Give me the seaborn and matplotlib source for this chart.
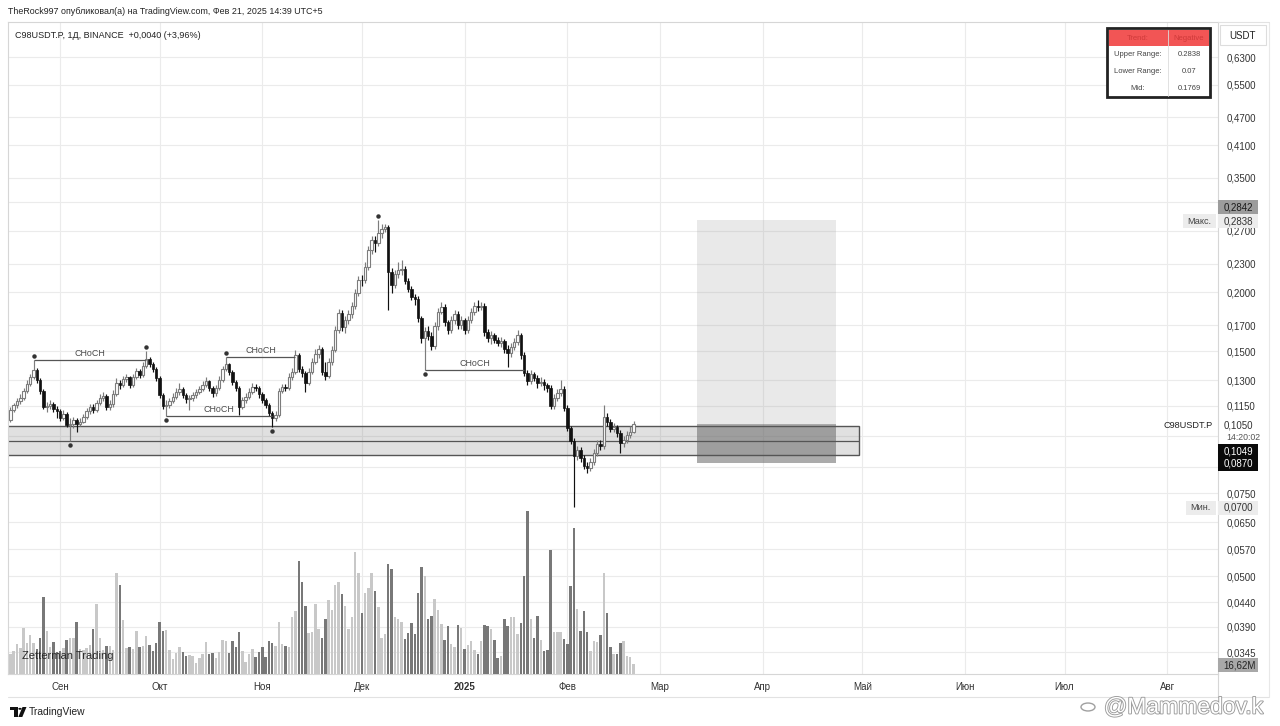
import matplotlib
matplotlib.use('Agg')
import matplotlib.pyplot as plt
import matplotlib.dates as mdates
import matplotlib.patheffects as pe
from matplotlib.patches import Rectangle, Polygon, Circle
from matplotlib.lines import Line2D
from matplotlib.transforms import offset_copy
from matplotlib.ticker import NullLocator
import numpy as np
import pandas as pd
import seaborn as sns

# ---- data (daily candles, C98USDT.P) ----
start_date = '2024-08-17'
first_open = 0.1072

close = [
    .1125, .1153, .1175, .1193, .1235, .1278, .1322, .1368, .1303, .1235,
    .1142, .1147, .1158, .1131, .1120, .1082, .1103, .1046, .1051, .1072,
    .1051, .1061, .1087, .1120, .1142, .1125, .1164, .1193, .1205, .1142,
    .1158, .1217, .1284, .1271, .1309, .1322, .1271, .1322, .1361, .1335,
    .1394, .1443, .1408, .1374, .1316, .1211, .1147, .1153, .1175, .1199,
    .1229, .1247, .1211, .1187, .1193, .1211, .1229, .1247, .1271, .1297,
    .1253, .1223, .1253, .1303, .1374, .1408, .1354, .1290, .1253, .1142,
    .1181, .1199, .1229, .1259, .1253, .1217, .1181, .1153, .1109, .1082,
    .1098, .1235, .1259, .1253, .1322, .1354, .1472, .1374, .1348, .1284,
    .1354, .1422, .1479, .1515, .1354, .1328, .1422, .1508, .1663, .1807,
    .1688, .1746, .1798, .1870, .1992, .2123, .2118, .2262, .2457, .2581,
    .2544, .2670, .2723, .2750, .2207, .2071, .2186, .2229, .2240, .2113,
    .2031, .1954, .1935, .1763, .1599, .1655, .1615, .1538, .1696, .1816,
    .1861, .1729, .1663, .1746, .1798, .1704, .1746, .1663, .1746, .1816,
    .1870, .1861, .1870, .1647, .1599, .1623, .1583, .1560, .1575, .1515,
    .1486, .1530, .1568, .1623, .1472, .1348, .1297, .1341, .1316, .1284,
    .1290, .1271, .1253, .1147, .1193, .1223, .1247, .1136, .1031, .0967,
    .0899, .0926, .0890, .0856, .0848, .0873, .0913, .0953, .0944, .1087,
    .1061, .1025, .1036, .1006, .0958, .0972, .0996, .1009, .1049]

high = [
    .1142, .1164, .1193, .1217, .1253, .1303, .1341, .1436, .1381, .1316,
    .1247, .1170, .1181, .1170, .1147, .1131, .1125, .1114, .1082, .1087,
    .1082, .1082, .1103, .1136, .1158, .1158, .1181, .1217, .1229, .1217,
    .1181, .1241, .1316, .1303, .1328, .1341, .1328, .1341, .1381, .1374,
    .1422, .1501, .1458, .1422, .1388, .1328, .1223, .1181, .1193, .1223,
    .1253, .1284, .1259, .1223, .1211, .1229, .1247, .1265, .1297, .1322,
    .1303, .1265, .1271, .1328, .1394, .1458, .1415, .1368, .1303, .1265,
    .1199, .1223, .1253, .1284, .1278, .1265, .1229, .1193, .1164, .1120,
    .1120, .1253, .1278, .1278, .1348, .1381, .1508, .1486, .1394, .1361,
    .1381, .1450, .1515, .1545, .1530, .1422, .1450, .1538, .1696, .1842,
    .1833, .1780, .1833, .1906, .2031, .2165, .2175, .2317, .2506, .2631,
    .2631, .2838, .2791, .2791, .2777, .2251, .2229, .2317, .2340, .2273,
    .2144, .2061, .1982, .1963, .1780, .1688, .1696, .1647, .1729, .1851,
    .1906, .1888, .1746, .1780, .1833, .1824, .1780, .1763, .1780, .1851,
    .1906, .1925, .1906, .1897, .1671, .1655, .1639, .1607, .1607, .1591,
    .1545, .1560, .1599, .1663, .1639, .1493, .1368, .1368, .1354, .1335,
    .1322, .1309, .1284, .1271, .1217, .1247, .1303, .1265, .1153, .1041,
    .0982, .0944, .0940, .0904, .0873, .0890, .0931, .0972, .0972, .1153,
    .1109, .1077, .1056, .1046, .1020, .0991, .1015, .1041, .1067]

low = [
    .1061, .1114, .1136, .1158, .1181, .1223, .1265, .1309, .1284, .1217,
    .1131, .1114, .1131, .1114, .1082, .1067, .1072, .1036, .0967, .1031,
    .1011, .1041, .1056, .1077, .1103, .1109, .1114, .1153, .1175, .1125,
    .1125, .1142, .1205, .1247, .1259, .1290, .1253, .1259, .1309, .1316,
    .1322, .1381, .1388, .1354, .1297, .1193, .1131, .1093, .1136, .1164,
    .1187, .1211, .1193, .1164, .1125, .1175, .1193, .1217, .1235, .1259,
    .1235, .1199, .1205, .1241, .1290, .1361, .1335, .1271, .1235, .1098,
    .1131, .1164, .1187, .1217, .1235, .1193, .1164, .1136, .1093, .1036,
    .1067, .1087, .1223, .1235, .1241, .1303, .1341, .1354, .1322, .1229,
    .1271, .1341, .1408, .1450, .1335, .1303, .1316, .1401, .1493, .1639,
    .1655, .1639, .1712, .1763, .1842, .1963, .2061, .2092, .2229, .2410,
    .2433, .2506, .2606, .2683, .1833, .1992, .2041, .2144, .2175, .2082,
    .2001, .1925, .1879, .1729, .1560, .1368, .1583, .1508, .1515, .1663,
    .1798, .1696, .1631, .1639, .1712, .1671, .1671, .1631, .1639, .1721,
    .1789, .1824, .1833, .1615, .1568, .1553, .1560, .1538, .1530, .1486,
    .1388, .1458, .1508, .1545, .1443, .1328, .1271, .1278, .1297, .1253,
    .1265, .1241, .1229, .1131, .1131, .1175, .1205, .1120, .1015, .0953,
    .0700, .0881, .0873, .0843, .0827, .0835, .0860, .0899, .0926, .0931,
    .1041, .1011, .1011, .0986, .0913, .0940, .0958, .0982, .1006]

# volume, millions
volume = [
    33, 39, 49, 43, 76, 52, 64, 51, 42, 59,
    128, 71, 45, 53, 37, 38, 43, 56, 59, 59,
    87, 42, 40, 43, 48, 75, 116, 59, 40, 47,
    47, 40, 168, 148, 89, 43, 44, 42, 72, 45,
    46, 63, 48, 39, 51, 87, 72, 73, 40, 25,
    35, 44, 36, 30, 32, 30, 18, 26, 34, 53,
    33, 35, 27, 36, 56, 55, 35, 54, 44, 69,
    39, 20, 34, 41, 29, 37, 45, 29, 54, 51,
    47, 87, 50, 47, 45, 95, 105, 188, 152, 113,
    68, 69, 116, 74, 59, 91, 123, 107, 148, 152,
    133, 113, 74, 95, 202, 167, 101, 135, 142, 167,
    138, 112, 59, 66, 182, 174, 94, 91, 86, 58,
    68, 85, 66, 134, 178, 162, 92, 96, 124, 106,
    83, 56, 79, 50, 44, 81, 77, 41, 48, 54,
    40, 34, 54, 82, 79, 74, 56, 26, 30, 91,
    80, 94, 95, 66, 84, 163, 271, 91, 59, 97,
    56, 39, 40, 206, 70, 69, 69, 58, 50, 146,
    242, 108, 71, 105, 69, 39, 55, 53, 64, 167,
    101, 45, 33, 33, 51, 54, 30, 28, 16.62]

price_ticks = [0.63, 0.55, 0.47, 0.41, 0.35, 0.27, 0.23, 0.20, 0.17, 0.15,
               0.13, 0.115, 0.075, 0.065, 0.057, 0.050, 0.044, 0.039, 0.0345]
hidden_grid = [0.31, 0.099, 0.085]
month_labels = ['Сен', 'Окт', 'Ноя', 'Дек', '2025', 'Фев', 'Мар', 'Апр', 'Май',
                'Июн', 'Июл', 'Авг']
month_starts = pd.date_range('2024-09-01', periods=12, freq='MS')

# drawings
zone_top, zone_mid, zone_bottom = 0.1039, 0.0967, 0.0904
zone_start, zone_end = '2024-08-10', '2025-04-30'
target_start, target_end = '2025-03-12', '2025-04-23'
upper_range, lower_range, mid_value = 0.2838, 0.07, 0.1769
entry_top, entry_bottom = 0.1049, 0.0870
# CHoCH segments: (start candle, end candle, 'high'/'low' of start candle)
choch = [(7, 41, 'high'), (47, 79, 'low'), (65, 86, 'high'), (125, 155, 'low')]
swing_highs = [7, 41, 65, 111]
swing_lows = [18, 47, 79, 125]

df = pd.DataFrame({'date': pd.date_range(start_date, periods=len(close), freq='D'),
                   'close': close, 'high': high, 'low': low, 'volume': volume})
df['open'] = [first_open] + close[:-1]
df['x'] = mdates.date2num(df['date'])
df['dir'] = np.where(df['close'] >= df['open'], 'up', 'down')
vol_colors = {'up': '#c8c8c8', 'down': '#787878'}

sns.set_theme(style='white')
plt.rcParams['font.family'] = ['Liberation Sans', 'DejaVu Sans']

W, H = 1280, 726
L, R, T, B = 8, 1218, 22, 674


def fx(x):
    return x / W


def fy(y):
    return 1 - y / H


fig = plt.figure(figsize=(W / 100, H / 100), dpi=100)
fig.patch.set_facecolor('white')
ax = fig.add_axes([fx(L), fy(B), (R - L) / W, (B - T) / H])
ax.set_yscale('log')
ax.set_ylim(0.0310, 0.748)

# grid
ax.set_axisbelow(True)
ax.grid(True, color='#ebebeb', lw=0.8)
for g in hidden_grid:
    ax.axhline(g, color='#ebebeb', lw=0.8, zorder=0.5)

# target box
t0, t1 = mdates.date2num(pd.Timestamp(target_start)), mdates.date2num(pd.Timestamp(target_end))
ax.add_patch(Rectangle((t0, entry_top), t1 - t0, upper_range - entry_top,
                       facecolor=(0.55, 0.55, 0.55, 0.19), edgecolor='none', zorder=1))
ax.add_patch(Rectangle((t0, entry_bottom), t1 - t0, entry_top - entry_bottom,
                       facecolor=(0.4, 0.4, 0.4, 0.55), edgecolor='none', zorder=1.2))

# support zone
z0, z1 = mdates.date2num(pd.Timestamp(zone_start)), mdates.date2num(pd.Timestamp(zone_end))
ax.add_patch(Rectangle((z0, zone_bottom), z1 - z0, zone_top - zone_bottom,
                       facecolor=(0.45, 0.45, 0.45, 0.22), edgecolor='#555555', lw=1.0, zorder=1.5))
ax.hlines(zone_mid, z0, z1, color='#555555', lw=0.9, zorder=1.6)

# candles
up = df[df['dir'] == 'up']
dn = df[df['dir'] == 'down']
ax.vlines(up['x'], up['low'], up['high'], color='#7c7c7c', lw=0.85, zorder=3)
ax.vlines(dn['x'], dn['low'], dn['high'], color='#111111', lw=0.85, zorder=3)
ax.bar(up['x'], up['close'] - up['open'], bottom=up['open'], width=0.74,
       facecolor='white', edgecolor='#7c7c7c', lw=0.8, zorder=4)
ax.bar(dn['x'], dn['open'] - dn['close'], bottom=dn['close'], width=0.74,
       facecolor='#111111', edgecolor='#111111', lw=0.5, zorder=4)

# CHoCH structure lines
for i0, i1, side in choch:
    y = df[side].iloc[i0]
    xa, xb = df['x'].iloc[i0], df['x'].iloc[i1]
    ax.hlines(y, xa, xb, color='#555555', lw=0.9, zorder=5)
    ax.annotate('CHoCH', xy=((xa + xb) / 2, y), xytext=(0, 1.5), textcoords='offset points',
                ha='center', va='bottom', fontsize=6.4, color='#4a4a4a', zorder=6)

up_off = offset_copy(ax.transData, fig=fig, y=4, units='dots')
dn_off = offset_copy(ax.transData, fig=fig, y=-4, units='dots')
ax.plot(df['x'].iloc[swing_highs], df['high'].iloc[swing_highs], 'o', ms=2.2,
        color='#333333', transform=up_off, zorder=6)
ax.plot(df['x'].iloc[swing_lows], df['low'].iloc[swing_lows], 'o', ms=2.2,
        color='#333333', transform=dn_off, zorder=6)

# volume on an overlay axis
vax = ax.twinx()
vax.bar(df['x'], df['volume'], width=0.74, color=df['dir'].map(vol_colors), lw=0, zorder=2)
vax.set_ylim(0, (B - T) * 1.66)
vax.set_yticks([])
vax.set_ylabel('')
for s in vax.spines.values():
    s.set_visible(False)

# axes cosmetics
ax.set_xlim(mdates.date2num(pd.Timestamp('2024-08-16 07:00')),
            mdates.date2num(pd.Timestamp('2025-08-16 07:00')))
ax.set_xticks(mdates.date2num(month_starts))
ax.set_xticklabels(month_labels)
ax.tick_params(axis='x', length=0, pad=6, labelsize=7, labelcolor='#333333')
for lab in ax.get_xticklabels():
    if lab.get_text() == '2025':
        lab.set_fontweight('bold')
ax.yaxis.tick_right()
ax.set_yticks(price_ticks)
ax.set_yticklabels([f'{p:.4f}'.replace('.', ',') for p in price_ticks])
ax.yaxis.set_minor_locator(NullLocator())
ax.tick_params(axis='y', length=0, pad=6, labelsize=7, labelcolor='#333333')
ax.set_xlabel('')
ax.set_ylabel('')
for s in ax.spines.values():
    s.set_color('#d6d6d6')
    s.set_linewidth(0.8)


def fbox(x0, y0, x1, y1, color, edge='none', lw=0.0, z=5):
    fig.add_artist(Rectangle((fx(x0), fy(y1)), (x1 - x0) / W, (y1 - y0) / H,
                             transform=fig.transFigure, facecolor=color,
                             edgecolor=edge, lw=lw, zorder=z))


def ftext(x, y, s, size=7, color='#333333', ha='left', z=6, **kw):
    fig.text(fx(x), fy(y), s, fontsize=size, color=color, ha=ha, va='center', zorder=z, **kw)


# frame lines around the time / price scales
fig.add_artist(Line2D([fx(L), fx(1269)], [fy(697), fy(697)], color='#e2e2e2', lw=0.8))
fig.add_artist(Line2D([fx(R), fx(R)], [fy(B), fy(697)], color='#d6d6d6', lw=0.8))
fig.add_artist(Line2D([fx(1269), fx(1269)], [fy(T), fy(697)], color='#e8e8e8', lw=0.8))
fig.add_artist(Line2D([fx(R), fx(1269)], [fy(T), fy(T)], color='#e2e2e2', lw=0.8))

# header
ftext(8, 12, 'TheRock997 опубликовал(а) на TradingView.com, Фев 21, 2025 14:39 UTC+5',
      size=6.4, color='#222222')
ftext(15, 35, 'C98USDT.P, 1Д, BINANCE  +0,0040 (+3,96%)', size=6.5, color='#222222')

# price scale labels
fbox(1220, 25, 1266, 45, 'white', edge='#dddddd', lw=0.8)
ftext(1229, 36, 'USDT', size=7, color='#222222')
fbox(1218, 200, 1258, 214, '#9c9c9c')
ftext(1224, 207, '0,2842', size=7, color='#1a1a1a')
fbox(1183, 214, 1216, 228, '#ececec')
ftext(1187, 221, 'Макс.', size=6.6, color='#444444')
fbox(1218, 214, 1258, 228, '#ececec')
ftext(1224, 221, '0,2838', size=7, color='#333333')
ftext(1213, 425, 'C98USDT.P', size=6.6, color='#222222', ha='right')
ftext(1224, 425, '0,1050', size=7, color='#333333')
ftext(1226, 437, '14:20:02', size=6.3, color='#555555')
fbox(1218, 444, 1258, 471, '#0a0a0a')
ftext(1224, 451, f'{entry_top:.4f}'.replace('.', ','), size=7, color='white')
ftext(1224, 464, f'{entry_bottom:.4f}'.replace('.', ','), size=7, color='white')
fbox(1186, 501, 1216, 515, '#ececec')
ftext(1190, 508, 'Мин.', size=6.6, color='#444444')
fbox(1218, 501, 1258, 515, '#ececec')
ftext(1224, 508, '0,0700', size=7, color='#333333')
fbox(1218, 658, 1258, 672, '#a8a8a8')
ftext(1223, 665, f'{volume[-1]:.2f}'.replace('.', ',') + 'M', size=7, color='#222222')

# range table
fbox(1107, 28, 1210, 97, 'white', edge='#222222', lw=2.0, z=7)
fbox(1108.5, 29.5, 1208.5, 46, '#f25555', z=7.5)
fig.add_artist(Line2D([fx(1168), fx(1168)], [fy(30), fy(96)], color='#dcdcdc', lw=0.6, zorder=7.6))
ftext(1138, 38, 'Trend:', size=5.5, color='#cf3a3a', ha='center', z=8)
ftext(1189, 38, 'Negative', size=5.5, color='#cf3a3a', ha='center', z=8)
rows = [('Upper Range:', f'{upper_range}'), ('Lower Range:', f'{lower_range}'),
        ('Mid:', f'{mid_value}')]
for k, (name, val) in enumerate(rows):
    ftext(1138, 55 + 16.5 * k, name, size=5.5, color='#444444', ha='center', z=8)
    ftext(1189, 55 + 16.5 * k, val, size=5.5, color='#444444', ha='center', z=8)

# watermarks
ftext(22, 656, 'Zetterman Trading', size=8, color='#2a2a2a', z=6)
fig.add_artist(Polygon([(fx(10), fy(707)), (fx(17.5), fy(707)), (fx(17.5), fy(717)),
                        (fx(14.2), fy(717)), (fx(14.2), fy(710)), (fx(10), fy(710))],
                       closed=True, transform=fig.transFigure, facecolor='#111111', edgecolor='none'))
fig.add_artist(Circle((fx(20), fy(708.8)), 1.7 / W, transform=fig.transFigure,
                      facecolor='#111111', edgecolor='none'))
fig.add_artist(Polygon([(fx(22.5), fy(707)), (fx(26.5), fy(707)), (fx(22.3), fy(717)),
                        (fx(18.3), fy(717))],
                       closed=True, transform=fig.transFigure, facecolor='#111111', edgecolor='none'))
ftext(29, 712, 'TradingView', size=7.4, color='#222222')
ftext(1104, 707, '@Mammedov.k', size=16.5, color='white',
      path_effects=[pe.withStroke(linewidth=1.3, foreground='#9a9a9a')])
fig.add_artist(Circle((fx(1088), fy(707)), 7 / W, transform=fig.transFigure,
                      facecolor='white', edgecolor='#a0a0a0', lw=1.0))

fig.savefig('out.png', dpi=100, facecolor='white')
